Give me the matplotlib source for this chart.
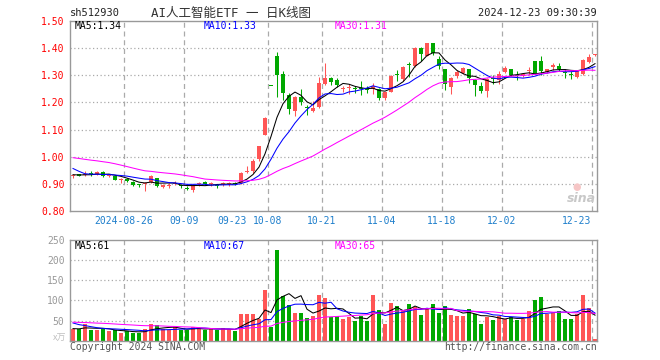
import matplotlib
matplotlib.use('Agg')
import matplotlib.pyplot as plt
import numpy as np
import pandas as pd

plt.rcParams['font.family'] = ['DejaVu Sans Mono']

# header texts
symbol = 'sh512930'
title = 'AI人工智能ETF 一 日K线图'
stamp = '2024-12-23 09:30:39'

# daily OHLC (2024-08-13 .. 2024-12-23)
opens = [0.930, 0.935, 0.933, 0.937, 0.936, 0.943, 0.930, 0.928, 0.912, 0.916,
         0.906, 0.896, 0.899, 0.905, 0.920, 0.888, 0.893, 0.899, 0.893, 0.884,
         0.878, 0.897, 0.906, 0.898, 0.895, 0.897, 0.898, 0.902, 0.904, 0.943,
         0.945, 0.990, 1.080, 1.260, 1.370, 1.305, 1.226, 1.170, 1.220, 1.182,
         1.170, 1.184, 1.270, 1.289, 1.283, 1.248, 1.253, 1.252, 1.252, 1.248,
         1.250, 1.251, 1.215, 1.240, 1.302, 1.285, 1.340, 1.335, 1.400, 1.372,
         1.418, 1.359, 1.322, 1.258, 1.297, 1.310, 1.322, 1.283, 1.260, 1.242,
         1.290, 1.283, 1.313, 1.322, 1.300, 1.298, 1.316, 1.353, 1.353, 1.313,
         1.330, 1.335, 1.310, 1.305, 1.294, 1.304, 1.350, 1.374]
highs = [0.935, 0.937, 0.945, 0.945, 0.948, 0.946, 0.936, 0.932, 0.920, 0.920,
         0.908, 0.900, 0.905, 0.932, 0.922, 0.900, 0.904, 0.910, 0.898, 0.890,
         0.898, 0.905, 0.910, 0.905, 0.900, 0.905, 0.906, 0.906, 0.942, 0.965,
         0.990, 1.040, 1.145, 1.260, 1.388, 1.315, 1.235, 1.225, 1.250, 1.190,
         1.205, 1.295, 1.345, 1.295, 1.290, 1.262, 1.268, 1.262, 1.280, 1.260,
         1.272, 1.255, 1.240, 1.300, 1.320, 1.335, 1.350, 1.404, 1.404, 1.420,
         1.420, 1.370, 1.325, 1.295, 1.320, 1.330, 1.325, 1.286, 1.275, 1.290,
         1.300, 1.318, 1.333, 1.325, 1.315, 1.310, 1.330, 1.355, 1.370, 1.325,
         1.345, 1.345, 1.325, 1.315, 1.320, 1.360, 1.380, 1.378]
lows = [0.922, 0.928, 0.928, 0.930, 0.933, 0.925, 0.925, 0.912, 0.902, 0.905,
        0.890, 0.888, 0.873, 0.903, 0.888, 0.885, 0.885, 0.895, 0.885, 0.875,
        0.870, 0.893, 0.894, 0.893, 0.883, 0.892, 0.892, 0.896, 0.900, 0.940,
        0.940, 0.985, 1.078, 1.260, 1.222, 1.210, 1.156, 1.150, 1.190, 1.155,
        1.165, 1.180, 1.265, 1.264, 1.258, 1.238, 1.232, 1.236, 1.228, 1.236,
        1.232, 1.210, 1.210, 1.238, 1.280, 1.280, 1.295, 1.330, 1.355, 1.370,
        1.375, 1.325, 1.245, 1.230, 1.290, 1.305, 1.272, 1.224, 1.236, 1.220,
        1.270, 1.270, 1.308, 1.297, 1.283, 1.295, 1.300, 1.305, 1.300, 1.310,
        1.320, 1.317, 1.292, 1.288, 1.290, 1.300, 1.345, 1.372]
closes = [0.933, 0.930, 0.935, 0.935, 0.943, 0.930, 0.933, 0.915, 0.914, 0.910,
          0.894, 0.894, 0.901, 0.930, 0.890, 0.895, 0.896, 0.901, 0.891, 0.882,
          0.894, 0.899, 0.897, 0.901, 0.893, 0.900, 0.901, 0.899, 0.938, 0.946,
          0.985, 1.038, 1.143, 1.260, 1.300, 1.236, 1.176, 1.220, 1.200, 1.180,
          1.180, 1.273, 1.289, 1.276, 1.264, 1.250, 1.258, 1.250, 1.250, 1.246,
          1.260, 1.215, 1.238, 1.297, 1.300, 1.332, 1.338, 1.400, 1.379, 1.418,
          1.384, 1.334, 1.270, 1.290, 1.313, 1.327, 1.289, 1.264, 1.243, 1.285,
          1.285, 1.304, 1.327, 1.300, 1.298, 1.305, 1.318, 1.307, 1.317, 1.322,
          1.337, 1.324, 1.308, 1.303, 1.315, 1.356, 1.367, 1.376]
# volume, 万手
volumes = [29, 29, 42, 27, 27, 29, 23, 27, 20, 23, 20, 20, 29, 42, 38, 29, 27, 33,
           27, 27, 33, 31, 27, 29, 27, 31, 28, 24, 66, 67, 66, 55, 127,
           34, 224, 110, 89, 68, 68, 56, 62, 114, 106,
           58, 62, 54, 58, 48, 62, 50, 114, 77, 42, 94, 87, 74, 92, 83, 64, 79, 92,
           70, 85, 64, 62, 62, 79, 66, 42, 60, 52, 62, 53, 58, 52, 53, 74, 102, 109,
           66, 68, 74, 53, 53, 66, 114, 80, 4]

# earlier days (not drawn) - estimated so the averages start where the chart shows them
prev_closes = [1.020, 1.030, 1.025, 1.020, 1.028, 1.024, 1.050, 1.065, 1.070, 1.060,
               1.055, 1.045, 0.990, 0.975, 0.965, 0.960, 0.968, 0.985, 0.990, 0.995,
               1.035, 1.025, 0.950, 0.945, 0.940, 0.935, 0.932, 0.933, 0.932]
prev_volumes = [45, 52, 48, 50, 44, 46, 55, 49, 47, 43, 50, 48, 45, 42, 46, 51, 44, 47,
                43, 45, 70, 65, 55, 52, 48, 32, 30, 29, 30]

date_labels = ['2024-08-26', '09-09', '09-23', '10-08', '10-21', '11-04', '11-18', '12-02', '12-23']
date_pos = [9, 19, 27, 33, 42, 52, 62, 72, 87]
grid_pos = [9, 19, 33, 42, 52, 62, 72, 87]

ma_names = ['MA5', 'MA10', 'MA30']
ma_days = [5, 10, 30]
ma_colors = ['black', '#0000ff', '#ff00ff']
price_ma_text = ['1.34', '1.33', '1.31']
vol_ma_text = ['61', '67', '65']

RED = '#ff5555'
GREEN = '#00a800'
GRID = '#aaaaaa'

W, H = 660, 360
fig = plt.figure(figsize=(6.6, 3.6), dpi=100)
fig.patch.set_facecolor('white')

def fx(px):
    return px / W

def fy(py):
    return 1 - py / H

ax = fig.add_axes([fx(70), fy(210.7), fx(527), 189.4 / H])
axv = fig.add_axes([fx(70), fy(340.7), fx(527), 100.7 / H])

n = len(closes)
x = np.arange(n)
o = np.array(opens)
c = np.array(closes)
colors = [RED if cc > oo else GREEN for oo, cc in zip(o, c)]

# price panel
ax.vlines(x, lows, highs, colors=colors, lw=0.75)
body = np.maximum(np.abs(c - o), 0.0037)
ax.bar(x, body, bottom=np.minimum(o, c), width=0.83, color=colors, lw=0)

all_close = pd.Series(prev_closes + closes)
all_vol = pd.Series(prev_volumes + volumes)
k = len(prev_closes)
for d, col in zip(ma_days, ma_colors):
    ax.plot(x, all_close.rolling(d).mean().values[k:], color=col, lw=0.75)
    axv.plot(x, all_vol.rolling(d).mean().values[k:], color=col, lw=0.75, zorder=3)

axv.bar(x, volumes, width=0.83, color=colors, lw=0)

xmax = (597 - 70) / 6 - 0.5
for a in (ax, axv):
    a.set_xlim(-0.5, xmax)
    a.set_xticks([])
    for s in a.spines.values():
        s.set_color('#999999')
        s.set_linewidth(1)
    for g in grid_pos:
        a.axvline(g - 0.5, color=GRID, lw=0.9, ls=(0, (4, 3)), zorder=0)
    a.tick_params(axis='y', length=0, pad=4, labelsize=7)

ax.set_ylim(0.80, 1.50)
ax.set_yticks(np.arange(0.8, 1.51, 0.1))
ax.set_yticklabels(['%.2f' % v for v in np.arange(0.8, 1.51, 0.1)], color='#ff0000')
for v in np.arange(0.9, 1.45, 0.1):
    ax.axhline(v, color=GRID, lw=0.9, ls=(0, (1, 2)), zorder=0)

axv.set_ylim(0, 250)
axv.set_yticks([50, 100, 150, 200, 250])
axv.set_yticklabels(['50', '100', '150', '200', '250'], color='#999999')
for v in [50, 100, 150, 200]:
    axv.axhline(v, color=GRID, lw=0.9, ls=(0, (1, 2)), zorder=0)

# date labels under the price panel
for lab, p in zip(date_labels, date_pos):
    if lab == '12-23':
        ax.text(p - 0.6, -0.053, lab, transform=ax.get_xaxis_transform(),
                ha='right', va='center', fontsize=7, color='#1e7fcc')
    else:
        ax.text(p - 0.5, -0.053, lab, transform=ax.get_xaxis_transform(),
                ha='center', va='center', fontsize=7, color='#1e7fcc')

# MA legends
for name, col, t, xp in zip(ma_names, ma_colors, price_ma_text, [75, 204, 335]):
    fig.text(fx(xp), fy(26), name + ':' + t, color=col, fontsize=7, ha='left', va='center')
for name, col, t, xp in zip(ma_names, ma_colors, vol_ma_text, [75, 204, 335]):
    fig.text(fx(xp), fy(246), name + ':' + t, color=col, fontsize=7, ha='left', va='center')

# header
fig.text(fx(70), fy(13), symbol, fontsize=7.5, color='#222222', ha='left', va='center')
fig.text(fx(231), fy(13), title, fontsize=9, color='#333333', ha='center', va='center',
         family=['DejaVu Sans Mono', 'Noto Sans CJK SC'])
fig.text(fx(597), fy(13), stamp, fontsize=7.5, color='#222222', ha='right', va='center')

# footer
fig.text(fx(70), fy(347), 'Copyright 2024 SINA.COM', fontsize=7, color='#555555', ha='left', va='center')
fig.text(fx(597), fy(347), 'http://finance.sina.com.cn', fontsize=7, color='#555555', ha='right', va='center')
fig.text(fx(66), fy(338), 'x万', fontsize=6.5, color='#c0c0c0', ha='right', va='center',
         family=['Noto Sans CJK SC', 'DejaVu Sans'])

# sina watermark
fig.text(fx(596), fy(199), 'sina', fontsize=9, color='#c8c8c8', ha='right', va='center',
         style='italic', weight='bold', family='DejaVu Sans')
fig.text(fx(577), fy(187), '●', fontsize=7, color='#f6c6c6', ha='center', va='center',
         family='DejaVu Sans')

fig.savefig('out.png', dpi=100)
